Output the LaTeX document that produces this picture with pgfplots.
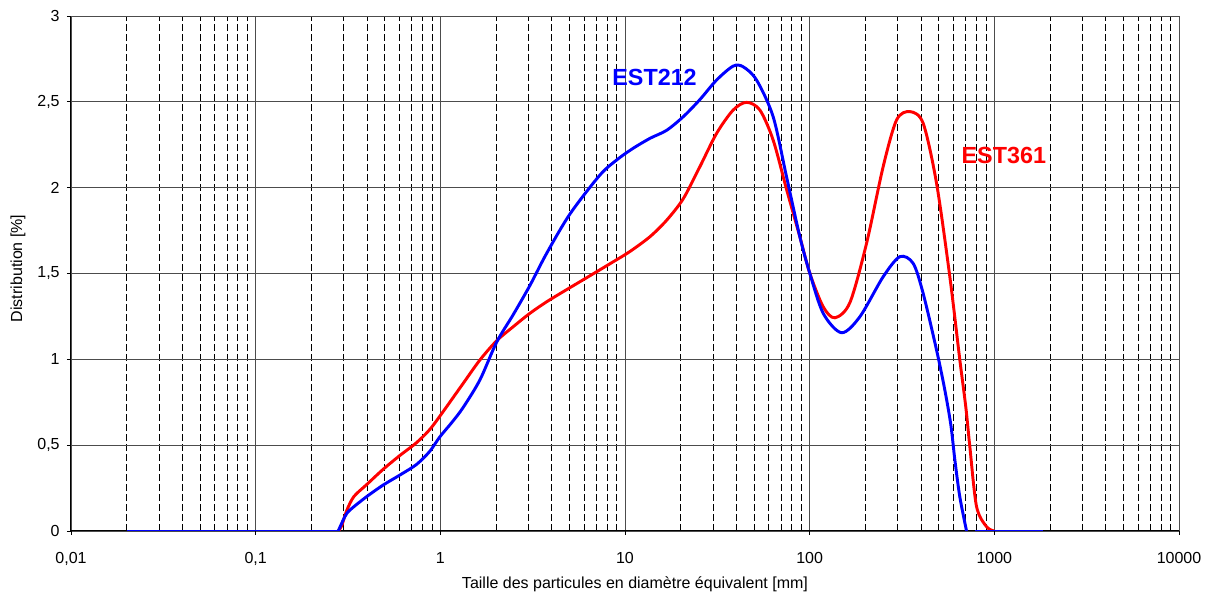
\documentclass[border=0pt]{standalone}
\usepackage{pgfplots}
\pgfplotsset{compat=1.18}
\usepackage{fontspec}
\setmainfont{Liberation Sans}
\begin{document}
\begin{tikzpicture}
\useasboundingbox (-53.25pt,-48pt) rectangle (855pt,398.25pt);
\begin{axis}[
  scale only axis,
  width=831pt, height=386.25pt,
  xmode=log,
  xmin=0.01, xmax=10000, ymin=0, ymax=3,
  enlargelimits=false,
  axis x line=bottom, axis y line=left,
  axis line style={-, black, line width=0.75pt},
  xtick={0.01,0.1,1,10,100,1000,10000},
  xticklabels={{0,01},{0,1},1,10,100,1000,10000},
  minor xtick={0.02,0.03,0.04,0.05,0.06,0.07,0.08,0.09,0.2,0.3,0.4,0.5,0.6,0.7,0.8,0.9,2,3,4,5,6,7,8,9,20,30,40,50,60,70,80,90,200,300,400,500,600,700,800,900,2000,3000,4000,5000,6000,7000,8000,9000},
  ytick={0,0.5,1,1.5,2,2.5,3},
  /pgf/number format/.cd, use comma, 1000 sep={}, assume math mode=true,
  /pgfplots/.cd,
  tick align=outside,
  major tick length=3pt, minor tick length=0pt,
  tick style={black, line width=0.6pt},
  xmajorgrids=true, xminorgrids=true, ymajorgrids=true,
  major grid style={black!70, line width=0.6pt},
  minor grid style={black, line width=0.5pt, dash pattern=on 5pt off 2.5pt},
  tick label style={font=\fontsize{12}{14}\selectfont},
  xticklabel style={yshift=-9.5pt},
  yticklabel style={xshift=-2pt},
  label style={font=\fontsize{12}{14}\selectfont},
  xlabel={Taille des particules en diamètre équivalent [mm]},
  ylabel={Distribution [\%]},
  xlabel style={at={(axis description cs:0.509,-0.103)}, anchor=center},
  ylabel style={at={(axis description cs:-0.0479,0.51)}, anchor=center, rotate=0},
]
% EST361 (red)
\addplot[red, line width=2.2pt] coordinates {(0.02,0) (0.28,0)};
\addplot[red, line width=2.2pt, smooth] coordinates {
(0.28,0) (0.292,0.029) (0.311,0.118) (0.34,0.2) (0.399,0.27) (0.491,0.36) (0.604,0.44) (0.744,0.515) (0.878,0.592) (1.016,0.683) (1.16,0.77) (1.33,0.86) (1.638,0.996) (2.018,1.108) (2.481,1.19) (3.055,1.268) (3.763,1.335) (4.628,1.394) (5.70,1.452) (7.02,1.51) (8.631,1.568) (10.63,1.628) (13.64,1.714) (16.8,1.81) (20.66,1.935) (25.44,2.122) (31.33,2.316) (38.53,2.452) (45.52,2.497) (53.76,2.452) (63.44,2.277) (74.98,1.99) (88.48,1.714) (100.2,1.501) (118.4,1.306) (136.9,1.242) (165.1,1.33) (203.3,1.676) (250,2.122) (295.5,2.394) (348.7,2.443) (411.7,2.375) (486.6,2.025) (574.2,1.481) (650.6,0.996) (701.1,0.72) (736.9,0.491) (801.2,0.142) (907.6,0.025) (1000,0)
};
% EST212 (blue)
\addplot[blue, line width=2.2pt] coordinates {(0.02,0) (0.28,0)};
\addplot[blue, line width=2.2pt, smooth] coordinates {
(0.28,0) (0.304,0.083) (0.324,0.122) (0.399,0.2) (0.491,0.268) (0.604,0.326) (0.744,0.388) (0.878,0.465) (0.995,0.549) (1.16,0.635) (1.33,0.72) (1.638,0.88) (2.018,1.1) (2.481,1.26) (3.055,1.43) (3.763,1.617) (5.03,1.846) (7.31,2.073) (9.01,2.161) (10.91,2.225) (13.64,2.287) (16.8,2.334) (20.66,2.413) (25.44,2.513) (31.33,2.627) (38.53,2.708) (43.65,2.704) (51.58,2.627) (63.44,2.413) (74.98,2.063) (88.48,1.714) (100.2,1.501) (118.4,1.268) (148.8,1.155) (187,1.248) (250,1.481) (307.9,1.598) (363.5,1.559) (411.7,1.384) (486.6,1.054) (539.5,0.821) (581.6,0.617) (611.3,0.414) (650.6,0.198) (707.3,0)
};
\addplot[blue, line width=2.2pt] coordinates {(784,0) (1824,0)};
\node[blue, font=\fontsize{17.5}{20}\selectfont\bfseries] at (axis cs:14.46,2.644) {EST212};
\node[red, font=\fontsize{17.5}{20}\selectfont\bfseries] at (axis cs:1125.7,2.19) {EST361};
\end{axis}
\end{tikzpicture}
\end{document}
